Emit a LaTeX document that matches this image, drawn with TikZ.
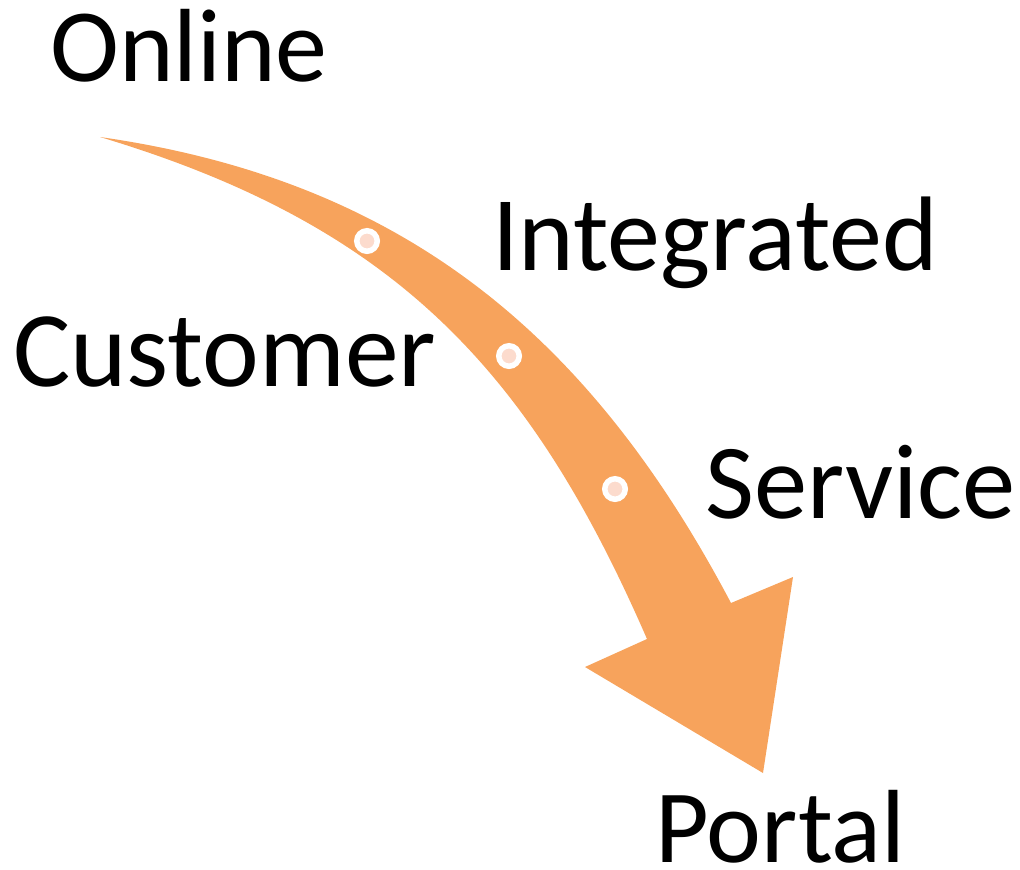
\documentclass[tikz,border=0pt]{standalone}
\usepackage{fontspec}
\setmainfont{Carlito}
\definecolor{arrowor}{HTML}{F7A35C}
\definecolor{dotpink}{HTML}{FCDBCD}
\begin{document}
\begin{tikzpicture}[x=1pt,y=-1pt,
  lbl/.style={anchor=base west,inner sep=0pt,font=\fontsize{#1}{#1}\selectfont},
  lbl/.default=105,
  dotmark/.style={circle,fill=dotpink,draw=white,line width=5.5pt,minimum size=20.5pt,inner sep=0pt}]
\useasboundingbox (0,0) rectangle (1020,870);
\fill[arrowor] (100,137) .. controls (400,180) and (588,332) .. (731,603)
  -- (793,577) -- (763,773) -- (585,667) -- (647,639)
  .. controls (530,370) and (394.6,225.4) .. (100,137) -- cycle;
\node[dotmark] (d1) at (367,241) {};
\node[dotmark] (d2) at (509,356) {};
\node[dotmark] (d3) at (615,489) {};
\node[lbl=104] (online) at (50,81) {Online};
\node[lbl=106] (integrated) at (492,270) {Integrated};
\node[lbl=107.5] (customer) at (13,386) {Customer};
\node[lbl=106.5] (service) at (705,518) {Service};
\node[lbl=104] (portal) at (655,862) {Portal};
\end{tikzpicture}
\end{document}
